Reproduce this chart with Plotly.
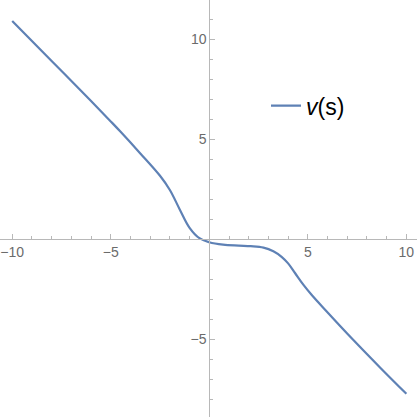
import plotly.graph_objects as go

# curve v(s)
s_vals = [-10.0, -8.0, -6.0, -5.0, -4.5, -3.5, -2.5, -2.0, -1.5, -1.0, -0.5, 0.0,
          0.7, 1.5, 2.1, 2.75, 3.25, 3.67, 4.0, 4.35, 4.77, 5.2, 5.9, 7.3, 8.7, 10.0]
v_vals = [10.92, 8.92, 6.92, 5.9, 5.38, 4.3, 3.18, 2.47, 1.5, 0.58, 0.06, -0.14,
          -0.26, -0.31, -0.34, -0.41, -0.59, -0.87, -1.2, -1.68, -2.26, -2.78, -3.54, -5.02, -6.44, -7.72]

x_major = [-10, -5, 5, 10]
y_major = [-5, 5, 10]

x_range = [-10.62, 10.54]
y_range = [-8.88, 11.97]

axis_col = "#b8b8b8"
label_col = "#6b6b6b"
curve_col = "#5e81b5"

fig = go.Figure()
fig.add_trace(go.Scatter(x=s_vals, y=v_vals, mode="lines", name="<i>v</i>(s)",
                         line=dict(color=curve_col, width=2.2, shape="spline", smoothing=1.0)))

# axes cross at the origin, like Mathematica
x_pos = (0 - y_range[0]) / (y_range[1] - y_range[0])
y_pos = (0 - x_range[0]) / (x_range[1] - x_range[0])

common = dict(showgrid=False, zeroline=False, showline=True, linecolor=axis_col, linewidth=1,
              ticks="inside", ticklen=5, tickcolor=axis_col, tickwidth=1,
              tickfont=dict(family="Liberation Sans", size=14, color=label_col),
              minor=dict(tickmode="linear", tick0=0, dtick=1, ticks="inside", ticklen=3,
                         tickcolor=axis_col, tickwidth=1),
              anchor="free", automargin=False)

fig.update_layout(
    width=417, height=417,
    margin=dict(l=0, r=0, t=0, b=0),
    plot_bgcolor="white", paper_bgcolor="white",
    xaxis=dict(range=x_range, tickvals=x_major, ticktext=["\u221210", "\u22125", "5", "10"],
               position=x_pos, **common),
    yaxis=dict(range=y_range, tickvals=y_major, ticktext=["\u22125", "5", "10"],
               position=y_pos, **common),
    showlegend=True,
    legend=dict(x=266 / 417, y=1 - 105.7 / 417, xanchor="left", yanchor="middle",
                bgcolor="rgba(0,0,0,0)",
                font=dict(family="Liberation Sans", size=23, color="black")),
)

# drop the default body margin so the figure sits at the window corner
fig.write_html("out.html", config={"displayModeBar": False},
               post_script="document.body.style.margin='0';")
